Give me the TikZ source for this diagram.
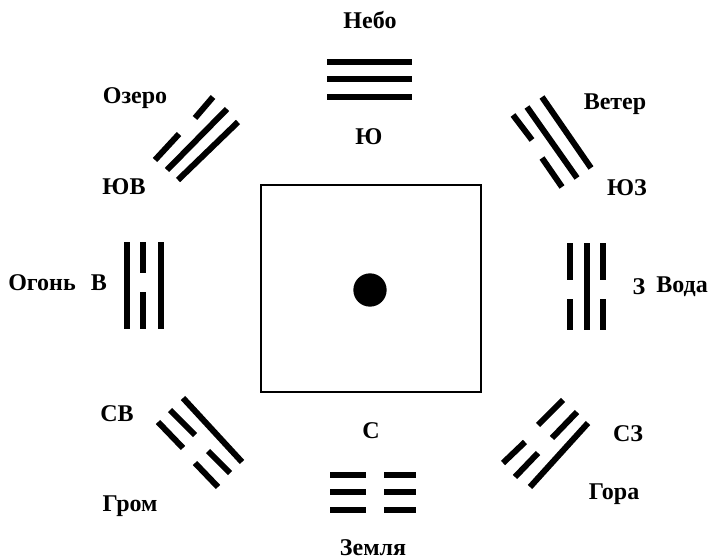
\documentclass[tikz,border=0pt]{standalone}
\usepackage{fontspec}
\setmainfont{Liberation Serif}
\usepackage{tikz}

\begin{document}
\begin{tikzpicture}[x=0.75pt,y=0.75pt,yscale=-1,xscale=1,
  bar/.style={line width=4.5pt},
  lbl/.style={font=\fontsize{18}{20}\selectfont\bfseries,inner sep=0.75pt}]
\path (0,0) rectangle (715,560);

%Shape: Square
\draw [line width=1.1pt] (261,185) rectangle (481,392) ;
%Shape: Circle
\fill (370,290) circle [radius=12.5pt] ;

%Trigram: top (Небо)
\draw [bar] (327,62) -- (412,62) ;
\draw [bar] (327,79) -- (412,79) ;
\draw [bar] (327,97) -- (412,97) ;
%Trigram: bottom (Земля)
\draw [bar] (330,475) -- (366,475) (384,475) -- (416,475) ;
\draw [bar] (330,492) -- (366,492) (384,492) -- (416,492) ;
\draw [bar] (330,510) -- (366,510) (384,510) -- (416,510) ;
%Trigram: left (Огонь)
\draw [bar] (127,242) -- (127,329) ;
\draw [bar] (143,242) -- (143,273) (143,292) -- (143,329) ;
\draw [bar] (161,242) -- (161,329) ;
%Trigram: right (Вода)
\draw [bar] (570,243) -- (570,280) (570,299) -- (570,330) ;
\draw [bar] (587,243) -- (587,330) ;
\draw [bar] (603,243) -- (603,280) (603,299) -- (603,330) ;
%Trigram: top left (Озеро)
\draw [bar] (178,180) -- (238,122) ;
\draw [bar] (167,170) -- (227,109) ;
\draw [bar] (155,160) -- (179,134) (195,118) -- (213,97) ;
%Trigram: top right (Ветер)
\draw [bar] (542,97) -- (591,168) ;
\draw [bar] (527,107) -- (577,178) ;
\draw [bar] (513,115) -- (532,140) (542,158) -- (562,187) ;
%Trigram: bottom left (Гром)
\draw [bar] (183,398) -- (242,462) ;
\draw [bar] (170,410) -- (195,435) (208,451) -- (230,473) ;
\draw [bar] (158,422) -- (183,448) (195,463) -- (218,487) ;
%Trigram: bottom right (Гора)
\draw [bar] (530,487) -- (588,423) ;
\draw [bar] (515,477) -- (538,453) (552,438) -- (577,412) ;
\draw [bar] (503,463) -- (525,442) (538,425) -- (563,400) ;

% Text Node
\draw (370,20) node [lbl] (nebo) {Небо};
% Text Node
\draw (369,137) node [lbl] (yu) {Ю};
% Text Node
\draw (135,98) node [lbl] (ozero) {Озеро};
% Text Node
\draw (124,187) node [lbl] (yuv) {ЮВ};
% Text Node
\draw (615,104) node [lbl] (veter) {Ветер};
% Text Node
\draw (627,188) node [lbl] (yuz) {ЮЗ};
% Text Node
\draw (42,283) node [lbl] (ogon) {Огонь};
% Text Node
\draw (99,283) node [lbl] (v) {В};
% Text Node
\draw (639,287) node [lbl] (z) {З};
% Text Node
\draw (682,287) node [lbl] (voda) {Вода};
% Text Node
\draw (117,414) node [lbl] (sv) {СВ};
% Text Node
\draw (130,506) node [lbl] (grom) {Гром};
% Text Node
\draw (371,431) node [lbl] (s) {С};
% Text Node
\draw (628,434) node [lbl] (sz) {СЗ};
% Text Node
\draw (614,494) node [lbl] (gora) {Гора};
% Text Node
\draw (373,548) node [lbl] (zemlya) {Земля};
\end{tikzpicture}
\end{document}
